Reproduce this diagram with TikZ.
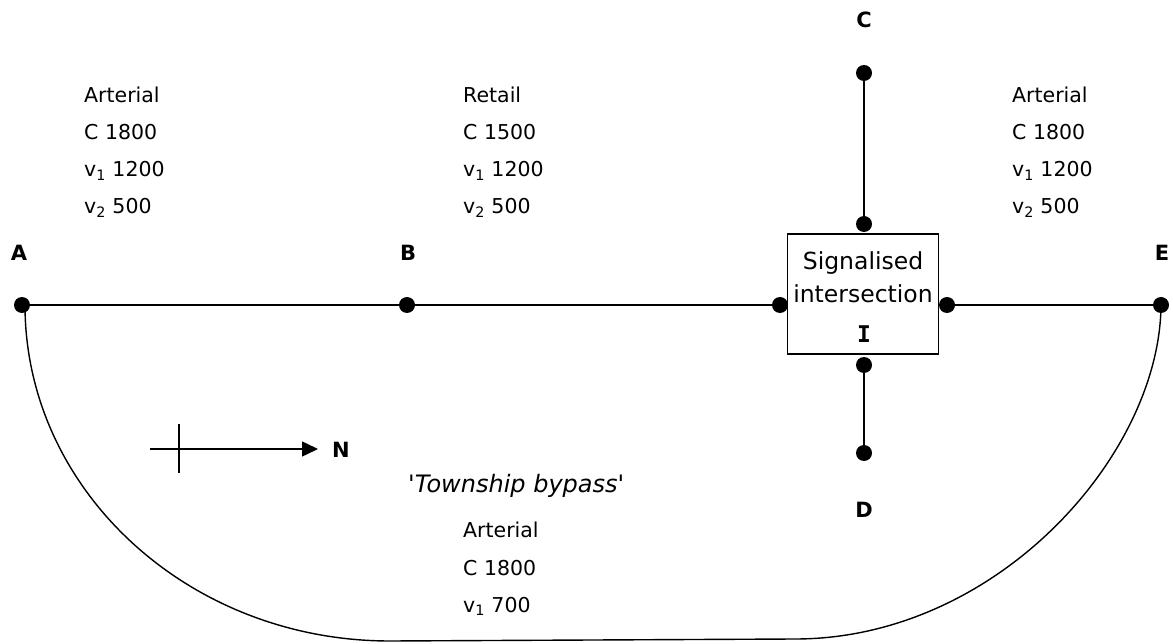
\documentclass[tikz,border=0pt]{standalone}
\usepackage{fontspec}
\setmainfont{DejaVu Sans}
\newfontfamily\serifbold{DejaVu Sans Mono}
\usetikzlibrary{arrows.meta}
\begin{document}
\begin{tikzpicture}[x=1pt,y=-1pt,
  dot/.style={circle,fill=black,inner sep=0pt,minimum size=16pt},
  road/.style={line width=1.8pt},
  bypass/.style={line width=1.4pt},
  info/.style={anchor=base west,inner sep=0pt,font=\fontsize{20.5}{24}\selectfont},
  lbl/.style={inner sep=0pt,font=\fontsize{21}{24}\selectfont\bfseries},
  boxtxt/.style={inner sep=0pt,font=\fontsize{23.5}{26}\selectfont}]
\useasboundingbox (0,0) rectangle (1173,644);
% box
\node[draw,line width=1.4pt,minimum width=151pt,minimum height=120pt,inner sep=0pt] (box) at (863,294) {};
\node[boxtxt] (sig) at (863,263) {Signalised};
\node[boxtxt] (int) at (863,294) {intersection};
\node[inner sep=0pt,font=\fontsize{23}{24}\selectfont\serifbold\bfseries] (Ilbl) at (864,334) {I};
% dots
\node[dot] (A) at (22,305) {};
\node[dot] (B) at (407,305) {};
\node[dot] (Iw) at (780,305) {};
\node[dot] (Ie) at (947,305) {};
\node[dot] (E) at (1161,305) {};
\node[dot] (Ct) at (864,73) {};
\node[dot] (In) at (864,224) {};
\node[dot] (Is) at (864,365) {};
\node[dot] (Db) at (864,453) {};
% roads
\draw[road] (A) -- (B);
\draw[road] (B) -- (Iw);
\draw[road] (Ie) -- (E);
\draw[road] (Ct) -- (In);
\draw[road] (Is) -- (Db);
% bypass
\coordinate (bl) at (390,641);
\coordinate (br) at (795,639);
\draw[bypass] (A.center) ++(3,0) .. controls (25,490) and (188,641) .. (bl)
  -- (br) .. controls (997,639) and (1160,455) .. (E.center);
% labels
\node[lbl] (Albl) at (19,253) {A};
\node[lbl] (Blbl) at (408,253) {B};
\node[lbl] (Elbl) at (1162,253) {E};
\node[lbl] (Clbl) at (864,20) {C};
\node[lbl] (Dlbl) at (864,510) {D};
% compass
\coordinate (cw) at (150,449);
\node[lbl] (N) at (341,450) {N};
\coordinate (ct) at (318,449);
\coordinate (vt) at (179,424);
\coordinate (vb) at (179,473);
\draw[line width=1.5pt,-{Triangle[length=16pt,width=15pt]}] (cw) -- (ct);
\draw[line width=1.5pt] (vt) -- (vb);
% info blocks
\node[info] at (84,103) {Arterial};
\node[info] at (84,140) {C 1800};
\node[info] at (84,177) {v\textsubscript{1} 1200};
\node[info] at (84,214) {v\textsubscript{2} 500};
\node[info] at (463,103) {Retail};
\node[info] at (463,140) {C 1500};
\node[info] at (463,177) {v\textsubscript{1} 1200};
\node[info] at (463,214) {v\textsubscript{2} 500};
\node[info] at (1012,103) {Arterial};
\node[info] at (1012,140) {C 1800};
\node[info] at (1012,177) {v\textsubscript{1} 1200};
\node[info] at (1012,214) {v\textsubscript{2} 500};
\node[info,font=\fontsize{24}{26}\selectfont\itshape] at (408,492) {\textquotesingle Township bypass\textquotesingle};
\node[info] at (463,537) {Arterial};
\node[info] at (463,575) {C 1800};
\node[info] at (463,612) {v\textsubscript{1} 700};
\end{tikzpicture}
\end{document}
